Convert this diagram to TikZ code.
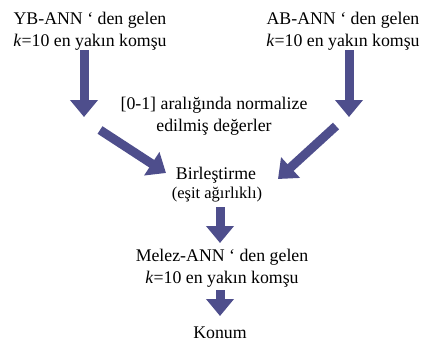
\documentclass[tikz,border=0pt]{standalone}
\usepackage{fontspec}
\setmainfont{Liberation Serif}
\usetikzlibrary{arrows.meta}
\definecolor{okmavi}{RGB}{78,78,140}
\begin{document}
\begin{tikzpicture}[x=1pt,y=-1pt,font=\fontsize{17.8}{21.5}\selectfont,
	metin/.style={align=center,inner sep=0pt},
	blok/.style={line width=9pt,draw=okmavi,-{Triangle[width=27pt,length=17pt]}}]
			\useasboundingbox (0,0) rectangle (429,343);
			\node[metin] (yb) at (90,31) {YB-ANN ‘ den gelen\\\textit{k}=10 en yakın komşu};
			\node[metin] (ab) at (343,31) {AB-ANN ‘ den gelen\\\textit{k}=10 en yakın komşu};
			\node[metin] (norm) at (214,116) {[0-1] aralığında normalize\\edilmiş değerler};
			\node[metin] (birles) at (216,175) {Birleştirme};
			\node[metin,font=\fontsize{16.5}{19}\selectfont] (esit) at (217,195) {(eşit ağırlıklı)};
			\node[metin] (melez) at (222,268) {Melez-ANN ‘ den gelen\\\textit{k}=10 en yakın komşu};
			\node[metin] (konum) at (220,333) {Konum};
			\coordinate (ybalt) at (84,117);
			\coordinate (abalt) at (349,117);
			\draw[blok] (84,50) -- (ybalt);
			\draw[blok] (349,50) -- (abalt);
			\draw[blok] (100,130) -- (166,173);
			\draw[blok] (336,126) -- (278,179);
			\draw[blok] (220,207) -- (220,243);
			\draw[blok] (220,290) -- (220,316);
			\end{tikzpicture}
\end{document}
